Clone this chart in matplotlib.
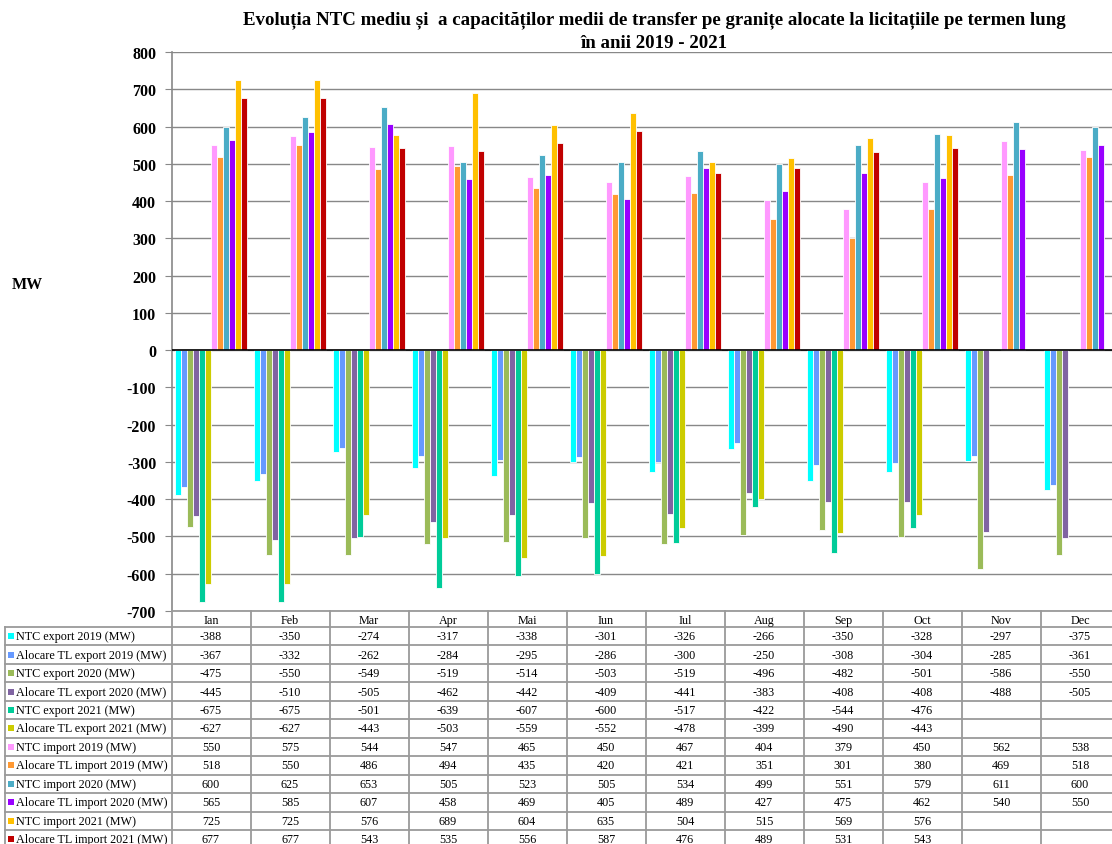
import numpy as np
import matplotlib
matplotlib.use("Agg")
import matplotlib.pyplot as plt
from matplotlib.patches import Rectangle

months = ["Ian", "Feb", "Mar", "Apr", "Mai", "Iun", "Iul", "Aug", "Sep", "Oct", "Nov", "Dec"]
nan = np.nan

ntc_export_2019 = [-388, -350, -274, -317, -338, -301, -326, -266, -350, -328, -297, -375]
tl_export_2019 = [-367, -332, -262, -284, -295, -286, -300, -250, -308, -304, -285, -361]
ntc_export_2020 = [-475, -550, -549, -519, -514, -503, -519, -496, -482, -501, -586, -550]
tl_export_2020 = [-445, -510, -505, -462, -442, -409, -441, -383, -408, -408, -488, -505]
ntc_export_2021 = [-675, -675, -501, -639, -607, -600, -517, -422, -544, -476, nan, nan]
tl_export_2021 = [-627, -627, -443, -503, -559, -552, -478, -399, -490, -443, nan, nan]
ntc_import_2019 = [550, 575, 544, 547, 465, 450, 467, 404, 379, 450, 562, 538]
tl_import_2019 = [518, 550, 486, 494, 435, 420, 421, 351, 301, 380, 469, 518]
ntc_import_2020 = [600, 625, 653, 505, 523, 505, 534, 499, 551, 579, 611, 600]
tl_import_2020 = [565, 585, 607, 458, 469, 405, 489, 427, 475, 462, 540, 550]
ntc_import_2021 = [725, 725, 576, 689, 604, 635, 504, 515, 569, 576, nan, nan]
tl_import_2021 = [677, 677, 543, 535, 556, 587, 476, 489, 531, 543, nan, nan]

series_names = [
    "NTC export 2019 (MW)", "Alocare TL export 2019 (MW)",
    "NTC export 2020 (MW)", "Alocare TL export 2020 (MW)",
    "NTC export 2021 (MW)", "Alocare TL export 2021 (MW)",
    "NTC import 2019 (MW)", "Alocare TL import 2019 (MW)",
    "NTC import 2020 (MW)", "Alocare TL import 2020 (MW)",
    "NTC import 2021 (MW)", "Alocare TL import 2021 (MW)",
]
series_values = [ntc_export_2019, tl_export_2019, ntc_export_2020, tl_export_2020,
                 ntc_export_2021, tl_export_2021, ntc_import_2019, tl_import_2019,
                 ntc_import_2020, tl_import_2020, ntc_import_2021, tl_import_2021]
colors = ["#00FFFF", "#6699FF", "#9BBB59", "#8064A2", "#00CC99", "#CCCC00",
          "#FF99FF", "#FF9933", "#4BACC6", "#9900FF", "#FFC000", "#C00000"]

yticks = list(range(-700, 801, 100))

W, H = 1112, 845
plt.rcParams['font.family'] = ['Liberation Serif', 'DejaVu Serif']
fig = plt.figure(figsize=(W / 100, H / 100), dpi=100)

ax_l, ax_r, ax_t, ax_b = 171.5, 1119.5, 53, 612
ax = fig.add_axes([ax_l / W, 1 - ax_b / H, (ax_r - ax_l) / W, (ax_b - ax_t) / H])

n = len(series_values)
group = 0.9
bw = group / n
x = np.arange(len(months))
for i, (vals, c) in enumerate(zip(series_values, colors)):
    v = np.array(vals, dtype=float)
    off = -group / 2 + bw * (i + 0.5)
    m = ~np.isnan(v)
    ax.bar(x[m] + off, v[m], width=bw, color=c, edgecolor="white", linewidth=0.6, zorder=3)

ax.set_xlim(-0.5, len(months) - 0.5)
ax.set_ylim(-700, 800)
ax.set_yticks(yticks)
ax.set_yticklabels([str(t) for t in yticks], fontweight="bold", fontsize=11.5)
ax.set_xticks([])
ax.yaxis.grid(True, color="#888888", linewidth=1.0, zorder=0)
ax.axhline(0, color="black", linewidth=1.2, zorder=4)
for s in ["top", "right", "bottom"]:
    ax.spines[s].set_visible(False)
ax.spines["left"].set_color("#888888")
ax.spines["left"].set_linewidth(1.2)
ax.tick_params(axis="y", length=5, color="#888888", pad=6)

# Title and axis label
fig.text(654 / W, 1 - 20 / H,
         "Evoluția NTC mediu și  a capacităților medii de transfer pe granițe alocate la licitațiile pe termen lung",
         ha="center", va="center", fontsize=13.6, fontweight="bold")
fig.text(654 / W, 1 - 44 / H, "în anii 2019 - 2021",
         ha="center", va="center", fontsize=13.6, fontweight="bold")
fig.text(12 / W, 1 - 285 / H, "MW", ha="left", va="center", fontsize=11.5, fontweight="bold")

# Data table below the plot (pixel overlay)
ov = fig.add_axes([0, 0, 1, 1], zorder=5)
ov.set_xlim(0, W)
ov.set_ylim(H, 0)
ov.axis("off")
ov.patch.set_alpha(0)

col_w = (ax_r - ax_l) / len(months)
lab_l = 5
hdr_top = ax_b
row_top = 628
row_h = 18.45
lc = "#9a9a9a"
lw = 1.3
fs = 8.7

# header cells
for j, mth in enumerate(months):
    xl = ax_l + j * col_w
    ov.text(xl + col_w / 2, (hdr_top + row_top) / 2 + 1, mth, ha="center", va="center", fontsize=fs)
ov.plot([ax_l, ax_r], [hdr_top, hdr_top], color=lc, lw=lw)
for j in range(len(months) + 1):
    xl = ax_l + j * col_w
    ov.plot([xl, xl], [hdr_top, H + 20], color=lc, lw=lw)
ov.plot([lab_l, lab_l], [row_top, H + 20], color=lc, lw=lw)

for r, (name, vals, c) in enumerate(zip(series_names, series_values, colors)):
    yt = row_top + r * row_h
    ov.plot([lab_l, ax_r], [yt, yt], color=lc, lw=lw)
    yc = yt + row_h / 2
    ov.add_patch(Rectangle((8, yc - 3), 6, 6, facecolor=c, edgecolor="none"))
    ov.text(16, yc, name, ha="left", va="center", fontsize=fs)
    for j, v in enumerate(vals):
        if not np.isnan(v):
            ov.text(ax_l + j * col_w + col_w / 2, yc, f"{int(v)}", ha="center", va="center", fontsize=fs)

fig.savefig("out.png", dpi=100)
